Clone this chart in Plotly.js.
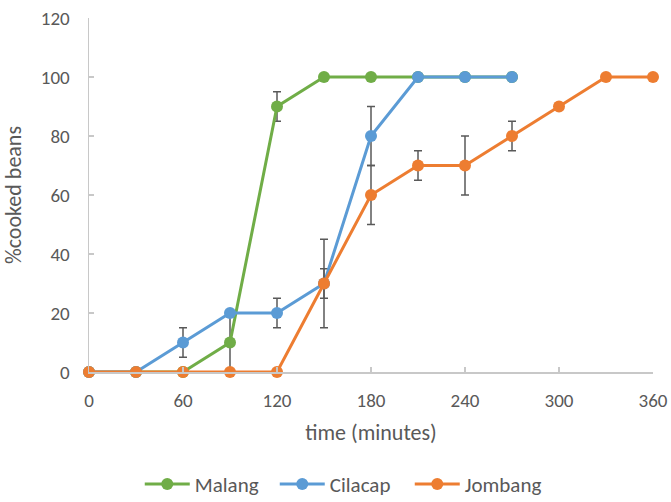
<!DOCTYPE html>
<html>
<head>
<meta charset="utf-8">
<script src="https://cdn.plot.ly/plotly-3.0.1.min.js"></script>
<style>html,body{margin:0;padding:0;background:#fff;}#chart{width:671px;height:502px;}</style>
</head>
<body>
<div id="chart"></div>
<script>
const malangX = [0, 30, 60, 90, 120, 150, 180, 210, 240, 270];
const malangY = [0, 0, 0, 10, 90, 100, 100, 100, 100, 100];
const malangErr = [0, 0, 0, 10, 5, 0, 0, 0, 0, 0];

const cilacapX = [0, 30, 60, 90, 120, 150, 180, 210, 240, 270];
const cilacapY = [0, 0, 10, 20, 20, 30, 80, 100, 100, 100];
const cilacapErr = [0, 0, 5, 0, 5, 5, 10, 0, 0, 0];

const jombangX = [0, 30, 60, 90, 120, 150, 180, 210, 240, 270, 300, 330, 360];
const jombangY = [0, 0, 0, 0, 0, 30, 60, 70, 70, 80, 90, 100, 100];
const jombangErr = [0, 0, 0, 0, 0, 15, 10, 5, 10, 5, 0, 0, 0];

const xTicks = [0, 60, 120, 180, 240, 300, 360];
const yTicks = [0, 20, 40, 60, 80, 100, 120];

const FONT = "Carlito, Lato, Open Sans, sans-serif";
const TXT = "#595959";

function series(name, x, y, err, color) {
  return {
    type: "scatter", mode: "lines+markers", name: name, x: x, y: y,
    line: {color: color, width: 3},
    marker: {color: color, size: 12},
    error_y: {type: "data", array: err, visible: true, color: "#595959", thickness: 1.5, width: 4,
              symmetric: true},
    cliponaxis: false
  };
}

const data = [
  series("Malang", malangX, malangY, malangErr, "#70ad47"),
  series("Cilacap", cilacapX, cilacapY, cilacapErr, "#5b9bd5"),
  series("Jombang", jombangX, jombangY, jombangErr, "#ed7d31")
];

const layout = {
  width: 671, height: 502,
  margin: {l: 89, r: 18, t: 18, b: 130, autoexpand: false},
  paper_bgcolor: "#fff", plot_bgcolor: "#fff",
  font: {family: FONT, color: TXT, size: 19},
  showlegend: true,
  legend: {orientation: "h", x: 0.09, xanchor: "left", y: -0.375, yanchor: "bottom",
           font: {family: FONT, color: TXT, size: 21}, itemwidth: 45, entrywidth: 75,
           borderwidth: 0, traceorder: "normal"},
  xaxis: {
    range: [0, 360], tickvals: xTicks, ticktext: xTicks.map(String),
    showgrid: false, zeroline: false, showline: true, linecolor: "#c8c8c8", linewidth: 1.5,
    ticks: "inside", ticklen: 5, tickcolor: "#c8c8c8", tickwidth: 1.5,
    ticklabelstandoff: 11,
    tickfont: {family: FONT, color: TXT, size: 19},
    title: {text: "time (minutes)", font: {family: FONT, color: TXT, size: 22}, standoff: 13},
    automargin: false
  },
  yaxis: {
    range: [0, 120], tickvals: yTicks, ticktext: yTicks.map(String),
    showgrid: false, zeroline: false, showline: true, linecolor: "#c8c8c8", linewidth: 1.5,
    ticks: "inside", ticklen: 5, tickcolor: "#c8c8c8", tickwidth: 1.5,
    ticklabelstandoff: 14,
    tickfont: {family: FONT, color: TXT, size: 19},
    title: {text: "%cooked beans", font: {family: FONT, color: TXT, size: 22}, standoff: 16},
    automargin: false
  }
};

Plotly.newPlot("chart", data, layout, {displayModeBar: false, staticPlot: true});
</script>
</body>
</html>
